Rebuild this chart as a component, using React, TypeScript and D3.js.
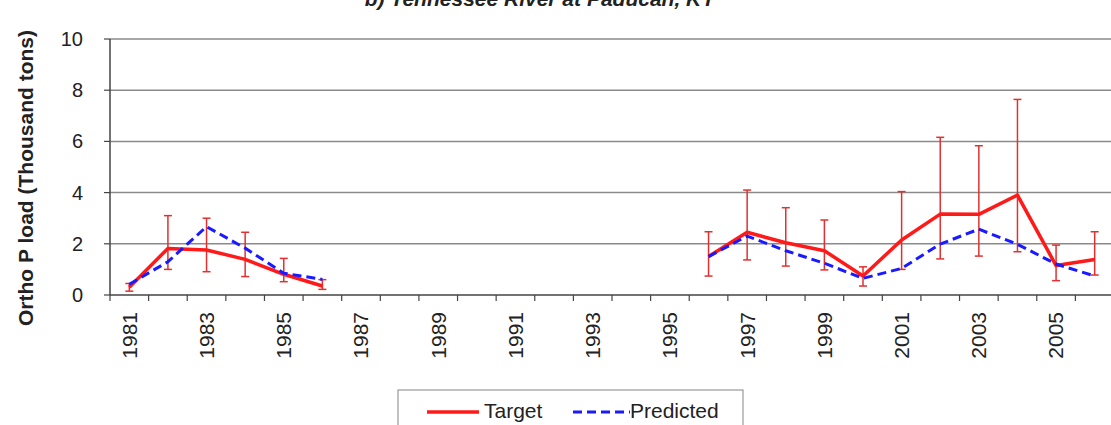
import * as d3 from "d3";

const years = d3.range(1981, 2007).map(String);

// null = no data for that year
const target = [
  0.3, 1.82, 1.76, 1.39, 0.81, 0.35,
  null, null, null, null, null, null, null, null, null,
  1.5, 2.45, 2.04, 1.73, 0.74, 2.15, 3.16, 3.15, 3.9, 1.15, 1.39,
];
const predicted = [
  0.42, 1.3, 2.67, 1.83, 0.85, 0.61,
  null, null, null, null, null, null, null, null, null,
  1.5, 2.3, 1.73, 1.24, 0.65, 1.04, 1.99, 2.57, 1.98, 1.21, 0.74,
];
const errLow = [
  0.15, 1.0, 0.91, 0.72, 0.52, 0.22,
  null, null, null, null, null, null, null, null, null,
  0.74, 1.37, 1.13, 0.98, 0.35, 1.0, 1.41, 1.52, 1.69, 0.56, 0.78,
];
const errHigh = [
  0.45, 3.1, 3.0, 2.45, 1.43, 0.6,
  null, null, null, null, null, null, null, null, null,
  2.47, 4.1, 3.41, 2.93, 1.1, 4.04, 6.16, 5.83, 7.64, 1.95, 2.47,
];
const yTicks = [0, 2, 4, 6, 8, 10];

const width = 1111;
const height = 425;
const left = 110;
const right = 1114;
const top = 39;
const bottom = 295;
const font = "'Liberation Sans', Arial, sans-serif";

export default function App() {
  const x = d3.scaleBand<string>().domain(years).range([left, right]);
  const y = d3.scaleLinear().domain([0, 10]).range([bottom, top]);
  const cx = (i: number) => x(years[i])! + x.bandwidth() / 2;

  const line = d3
    .line<number | null>()
    .defined((d) => d != null)
    .x((d, i) => cx(i))
    .y((d) => y(d as number));

  return (
    <div style={{ position: "absolute", left: 0, top: 0 }}>
      <svg width={width} height={height} style={{ display: "block", background: "#fff" }} fontFamily={font}>
        {/* title, cut off at the top in the source image */}
        <text x={540} y={6} textAnchor="middle" fontSize={21} fontWeight="bold" fontStyle="italic" fill="#222">
          b) Tennessee River at Paducah, KY
        </text>

        {/* grid */}
        {yTicks.slice(1).map((t) => (
          <line key={t} x1={left} x2={right} y1={y(t)} y2={y(t)} stroke="#8a8a8a" strokeWidth={1.5} />
        ))}

        {/* y axis */}
        <line x1={left} x2={left} y1={top} y2={bottom} stroke="#444" strokeWidth={1.5} />
        {yTicks.map((t) => (
          <g key={t}>
            <line x1={left - 6} x2={left} y1={y(t)} y2={y(t)} stroke="#444" strokeWidth={1.2} />
            <text x={83} y={y(t)} dy="0.35em" textAnchor="end" fontSize={20} fill="#222">
              {t}
            </text>
          </g>
        ))}
        <text
          transform={`translate(33,178) rotate(-90)`}
          textAnchor="middle"
          fontSize={21}
          fontWeight="bold"
          fill="#222"
        >
          Ortho P load (Thousand tons)
        </text>

        {/* x axis */}
        <line x1={left} x2={right} y1={bottom} y2={bottom} stroke="#444" strokeWidth={1.5} />
        {years.map((yr) => (
          <line key={yr} x1={x(yr)!} x2={x(yr)!} y1={bottom} y2={bottom + 6} stroke="#444" strokeWidth={1.2} />
        ))}
        {years.map((yr, i) =>
          i % 2 === 0 ? (
            <text
              key={yr}
              transform={`translate(${cx(i)},${bottom + 17}) rotate(-90)`}
              textAnchor="end"
              dy="0.35em"
              fontSize={21}
              fill="#222"
            >
              {yr}
            </text>
          ) : null
        )}

        {/* error bars */}
        <g stroke="#e23030" strokeWidth={1.5}>
          {errLow.map((lo, i) =>
            lo == null ? null : (
              <g key={i}>
                <line x1={cx(i)} x2={cx(i)} y1={y(lo)} y2={y(errHigh[i] as number)} />
                <line x1={cx(i) - 4} x2={cx(i) + 4} y1={y(lo)} y2={y(lo)} />
                <line x1={cx(i) - 4} x2={cx(i) + 4} y1={y(errHigh[i] as number)} y2={y(errHigh[i] as number)} />
              </g>
            )
          )}
        </g>

        {/* series */}
        <path d={line(target)!} fill="none" stroke="#ff1a1a" strokeWidth={3.5} strokeLinejoin="round" />
        <path d={line(predicted)!} fill="none" stroke="#1a1aff" strokeWidth={3} strokeDasharray="9,5" />

        {/* legend */}
        <rect x={398} y={390} width={345} height={50} fill="#fff" stroke="#999" strokeWidth={1.2} />
        <line x1={427} x2={479} y1={412} y2={412} stroke="#ff1a1a" strokeWidth={3.5} />
        <text x={484} y={411} dy="0.35em" fontSize={21} fill="#222">Target</text>
        <line x1={573} x2={630} y1={412} y2={412} stroke="#1a1aff" strokeWidth={3} strokeDasharray="9,5" />
        <text x={630} y={411} dy="0.35em" fontSize={21} fill="#222">Predicted</text>
      </svg>
    </div>
  );
}
